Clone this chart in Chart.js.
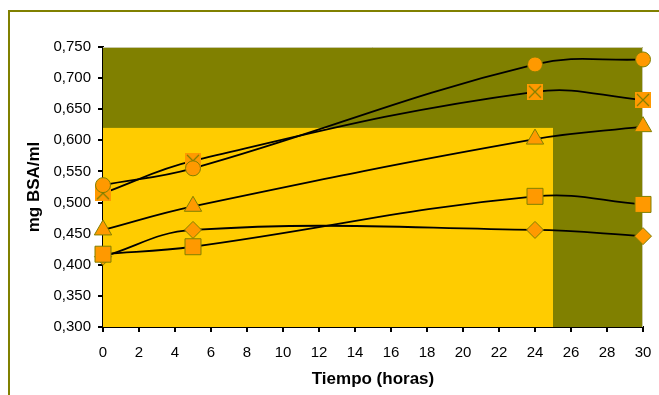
<!DOCTYPE html>
<html>
<head>
<meta charset="utf-8">
<script src="https://cdn.jsdelivr.net/npm/chart.js@4.4.1/dist/chart.umd.min.js"></script>
<style>
    html, body { margin: 0; padding: 0; background: #ffffff; overflow: hidden; }
    .frame {
        position: absolute; left: 8px; top: 10px;
        width: 1000px; height: 1000px;
        border: 2px solid #808000;
    }
    .wrap { position: absolute; left: 0; top: 0; width: 659px; height: 395px; }
</style>
</head>
<body>
<div class="frame"></div>
<div class="wrap"><canvas id="bsaChart" width="659" height="395"></canvas></div>
<script>
// Sampling times (horas)
const horas = [0, 5, 24, 30];

// mg BSA/ml per series
const serieCirculo = [0.528, 0.555, 0.722, 0.730];
const serieCruz = [0.515, 0.567, 0.678, 0.665];
const serieTriangulo = [0.456, 0.494, 0.602, 0.622];
const serieCuadrado = [0.417, 0.429, 0.510, 0.497];
const serieRombo = [0.413, 0.456, 0.456, 0.446];

// axis ranges
const xMin = 0, xMax = 30, xStep = 2;
const yMin = 0.300, yMax = 0.750, yStep = 0.050;

// yellow inner band (in data units)
const bandaX = [0, 25];
const bandaY = [0.300, 0.620];

const OLIVE = '#808000';
const YELLOW = '#FFCC00';
const ORANGE = '#FF9900';

function pts(ys) {
    return horas.map((h, i) => ({ x: h, y: ys[i] }));
}

// square marker with an X inside
function crossBox() {
    const c = document.createElement('canvas');
    c.width = 16; c.height = 16;
    const g = c.getContext('2d');
    g.fillStyle = ORANGE;
    g.fillRect(0, 0, 16, 16);
    g.strokeStyle = OLIVE;
    g.lineWidth = 1.2;
    g.beginPath();
    g.moveTo(2, 2); g.lineTo(14, 14);
    g.moveTo(14, 2); g.lineTo(2, 14);
    g.stroke();
    return c;
}

const series = [
    { data: serieCirculo, style: 'circle', r: 7.5 },
    { data: serieCruz, style: crossBox(), r: 8 },
    { data: serieTriangulo, style: 'triangle', r: 10 },
    { data: serieCuadrado, style: 'rect', r: 11.3 },
    { data: serieRombo, style: 'rectRot', r: 8.5 }
];

const datasets = [];
// markers on top
series.forEach(s => {
    datasets.push({
        data: pts(s.data),
        showLine: false,
        pointStyle: s.style,
        pointRadius: s.r,
        pointHoverRadius: s.r,
        pointBackgroundColor: ORANGE,
        pointBorderColor: OLIVE,
        pointBorderWidth: 1,
        clip: false,
        order: 0
    });
});
// smooth black lines underneath
series.forEach(s => {
    datasets.push({
        data: pts(s.data),
        showLine: true,
        borderColor: '#000000',
        borderWidth: 1.8,
        tension: 0.4,
        pointRadius: 0,
        fill: false,
        clip: false,
        order: 1
    });
});

const plotBackground = {
    id: 'plotBackground',
    beforeDatasetsDraw(chart) {
        const { ctx, chartArea: a, scales: { x, y } } = chart;
        ctx.save();
        ctx.fillStyle = OLIVE;
        ctx.fillRect(a.left, a.top, a.right - a.left, a.bottom - a.top);
        const bx0 = x.getPixelForValue(bandaX[0]);
        const bx1 = x.getPixelForValue(bandaX[1]);
        const by0 = y.getPixelForValue(bandaY[1]);
        const by1 = y.getPixelForValue(bandaY[0]);
        ctx.fillStyle = YELLOW;
        ctx.fillRect(bx0, by0, bx1 - bx0, by1 - by0);
        ctx.strokeStyle = '#c8c8a8';
        ctx.lineWidth = 1;
        ctx.beginPath();
        ctx.moveTo(a.left, a.top + 0.5);
        ctx.lineTo(a.right - 0.5, a.top + 0.5);
        ctx.lineTo(a.right - 0.5, a.bottom);
        ctx.stroke();
        ctx.restore();
    }
};

const fontFamily = '"Liberation Sans", Arial, sans-serif';

new Chart(document.getElementById('bsaChart').getContext('2d'), {
    type: 'scatter',
    data: { datasets: datasets },
    options: {
        responsive: false,
        animation: false,
        events: [],
        layout: { padding: { left: 0, top: 47, right: 16, bottom: 0 } },
        plugins: {
            legend: { display: false },
            tooltip: { enabled: false }
        },
        scales: {
            x: {
                type: 'linear',
                min: xMin,
                max: xMax,
                afterFit: s => { s.height = 68; s.paddingLeft = 0; s.paddingRight = 0; },
                border: { display: true, color: '#000000', width: 2 },
                grid: { drawOnChartArea: false, drawTicks: true, tickLength: 5, color: '#000000', lineWidth: 2 },
                ticks: {
                    stepSize: xStep,
                    padding: 12,
                    color: '#000000',
                    font: { family: fontFamily, size: 15 }
                },
                title: {
                    display: true,
                    text: 'Tiempo (horas)',
                    color: '#000000',
                    font: { family: fontFamily, size: 17, weight: 'bold' },
                    padding: { top: 0, bottom: 5 }
                }
            },
            y: {
                type: 'linear',
                min: yMin,
                max: yMax,
                afterFit: s => { s.width = 103; s.paddingTop = 0; s.paddingBottom = 0; },
                border: { display: true, color: '#000000', width: 2 },
                grid: { drawOnChartArea: false, drawTicks: true, tickLength: 5, color: '#000000', lineWidth: 2 },
                ticks: {
                    stepSize: yStep,
                    padding: 7,
                    color: '#000000',
                    font: { family: fontFamily, size: 15 },
                    callback: v => v.toFixed(3).replace('.', ',')
                },
                title: {
                    display: true,
                    text: 'mg BSA/ml',
                    color: '#000000',
                    font: { family: fontFamily, size: 17, weight: 'bold' },
                    padding: { top: 24, bottom: 0 }
                }
            }
        }
    },
    plugins: [plotBackground]
});
</script>
</body>
</html>
